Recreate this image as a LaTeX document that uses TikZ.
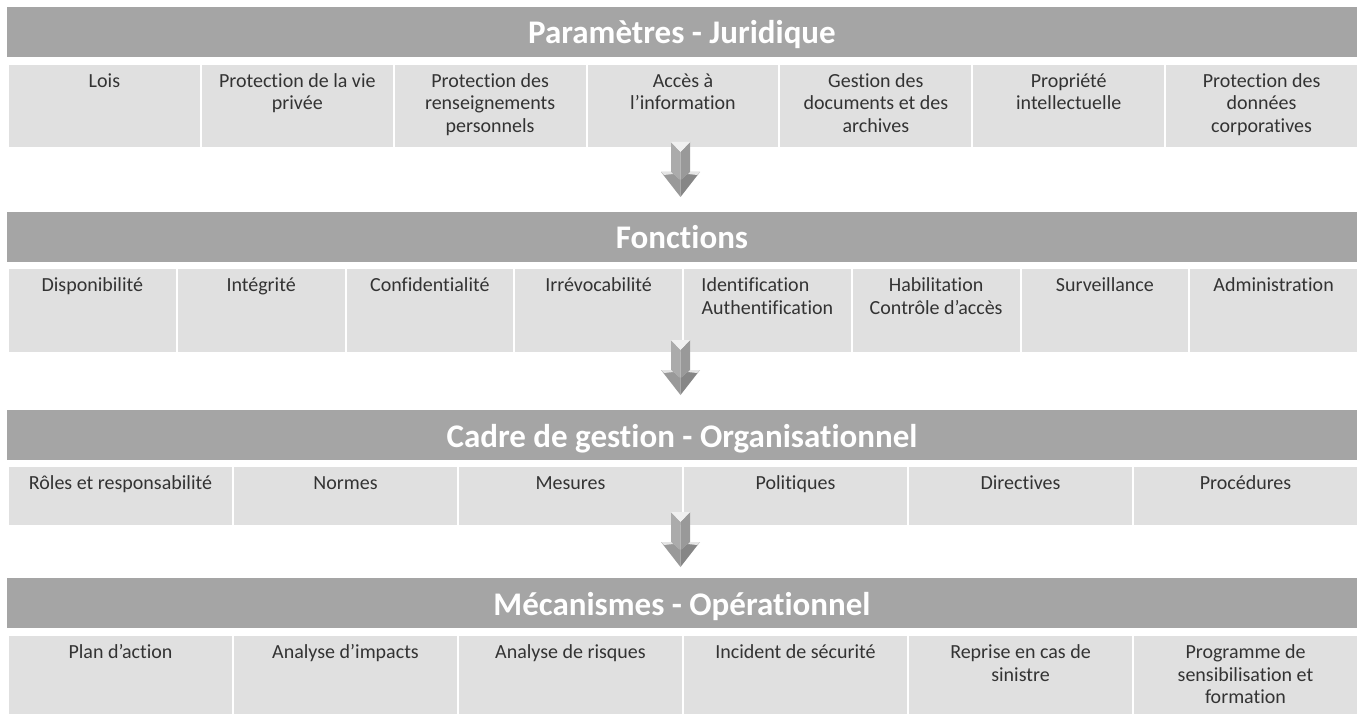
\documentclass[tikz,border=0pt]{standalone}
\usepackage{fontspec}
\setmainfont{Carlito}[Ligatures=NoCommon]
\definecolor{bandgray}{HTML}{A5A5A5}
\definecolor{cellgray}{HTML}{E0E0E0}
\definecolor{celltextgray}{HTML}{333333}
\definecolor{arrowlight}{HTML}{ABABAB}
\definecolor{arrowmid}{HTML}{999999}
\definecolor{arrowdark}{HTML}{868686}
\begin{document}
\begin{tikzpicture}[x=1pt,y=-1pt,
  band/.style={fill=bandgray, draw=none, inner sep=0pt, anchor=north west,
    minimum width=1350pt, minimum height=50pt},
  bandtitle/.style={text=white, font=\fontsize{33}{38}\selectfont\bfseries,
    inner sep=0pt, anchor=base},
  cellbox/.style={fill=cellgray, draw=white, line width=2pt, inner sep=0pt,
    anchor=north west},
  celltext/.style={text=celltextgray, font=\fontsize{20}{22.5}\selectfont,
    align=flush center, inner sep=0pt, anchor=base},
  downarrow/.pic={
    % shaft faces
    \fill[arrowlight] (-9.5,0) -- (0,10) -- (0,38) -- (-9.5,30) -- cycle;
    \fill[arrowmid] (9.5,0) -- (0,10) -- (0,38) -- (9.5,30) -- cycle;
    % bevelled top
    \fill[white!94!black] (-9.5,0) -- (9.5,0) -- (0,10) -- cycle;
    % head faces
    \fill[arrowmid] (-19.5,30) -- (-9.5,30) -- (0,38) -- (0,55) -- cycle;
    \fill[arrowdark] (19.5,30) -- (9.5,30) -- (0,38) -- (0,55) -- cycle;
    % highlights on the wings
    \fill[white!90!black] (-19.5,30) -- (-9.5,30) -- (-7.5,32) -- (-16.5,33) -- cycle;
    \fill[white!90!black] (19.5,30) -- (9.5,30) -- (7.5,32) -- (16.5,33) -- cycle;
  }]
\useasboundingbox (0,0) rectangle (1358,714);

% ---------- Tier 1 ----------
\node[band] (h1) at (7,7) {};
\node[bandtitle] (t1) at (682,44) {Paramètres - Juridique};
\foreach \txt [count=\i] in {Lois,{Protection de la vie\\privée},
    {Protection des\\renseignements\\personnels},{Accès à\\l’information},
    {Gestion des\\documents et des\\archives},{Propriété\\intellectuelle},
    {Protection des\\données\\corporatives}}{
  \pgfmathsetmacro\xa{7+(\i-1)*1350/7}
  \node[cellbox, minimum width=1350pt/7, minimum height=84pt] (a\i) at (\xa,63) {};
  \node[celltext, text width=1350pt/7-8pt] (al\i) at ([yshift=-24.5pt]a\i.north) {\txt};
}

% ---------- Tier 2 ----------
\node[band] (h2) at (7,212) {};
\node[bandtitle] (t2) at (682,249) {Fonctions};
\foreach \txt [count=\i] in {Disponibilité,Intégrité,Confidentialité,
    Irrévocabilité,{Identification\hspace*{24pt}\mbox{}\\Authentification},
    {Habilitation\\Contrôle d’accès},Surveillance,Administration}{
  \pgfmathsetmacro\xa{7+(\i-1)*1350/8}
  \node[cellbox, minimum width=1350pt/8, minimum height=85pt] (b\i) at (\xa,267) {};
  \node[celltext, text width=1350pt/8-4pt] (bl\i) at ([yshift=-24.5pt]b\i.north) {\txt};
}

% ---------- Tier 3 ----------
\node[band] (h3) at (7,410) {};
\node[bandtitle] (t3) at (682,447) {Cadre de gestion - Organisationnel};
\foreach \txt [count=\i] in {Rôles et responsabilité,Normes,Mesures,
    Politiques,Directives,Procédures}{
  \pgfmathsetmacro\xa{7+(\i-1)*1350/6}
  \node[cellbox, minimum width=1350pt/6, minimum height=60pt] (c\i) at (\xa,465) {};
  \node[celltext, text width=1350pt/6-8pt] (cl\i) at ([yshift=-24.5pt]c\i.north) {\txt};
}

% ---------- Tier 4 ----------
\node[band] (h4) at (7,578) {};
\node[bandtitle] (t4) at (682,615) {Mécanismes - Opérationnel};
\foreach \txt [count=\i] in {Plan d’action,Analyse d’impacts,
    Analyse de risques,Incident de sécurité,{Reprise en cas de\\sinistre},
    {Programme de\\sensibilisation et\\formation}}{
  \pgfmathsetmacro\xa{7+(\i-1)*1350/6}
  \node[cellbox, minimum width=1350pt/6, minimum height=84pt] (d\i) at (\xa,634) {};
  \node[celltext, text width=1350pt/6-8pt] (dl\i) at ([yshift=-24.5pt]d\i.north) {\txt};
}

% ---------- Arrows between tiers ----------
\coordinate (arr1) at (680.5,142);
\coordinate (arr2) at (680.5,340);
\coordinate (arr3) at (680.5,512);
\pic at (arr1) {downarrow};
\pic at (arr2) {downarrow};
\pic at (arr3) {downarrow};
\end{tikzpicture}
\end{document}
